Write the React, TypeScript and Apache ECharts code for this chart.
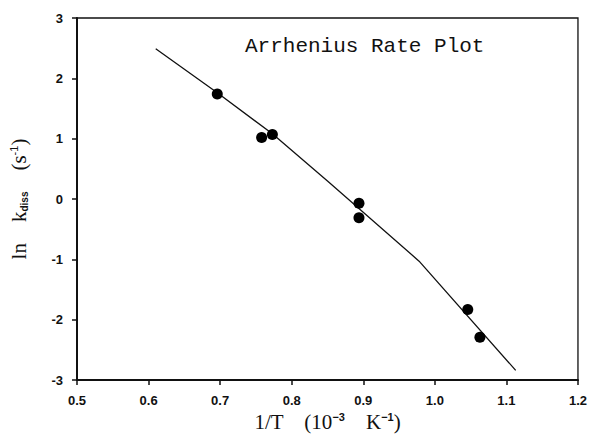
import React, { useEffect, useRef } from "react";
import * as echarts from "echarts";

const pointX = [0.696, 0.758, 0.773, 0.894, 0.894, 1.046, 1.063];
const pointY = [1.74, 1.02, 1.07, -0.07, -0.31, -1.83, -2.29];

const lineX = [0.61, 0.696, 0.773, 0.85, 0.978, 1.113];
const lineY = [2.49, 1.76, 1.08, 0.3, -1.03, -2.84];

const titleText = "Arrhenius Rate Plot";

export default function App() {
  const ref = useRef<HTMLDivElement>(null);
  useEffect(() => {
    const chart = echarts.init(ref.current!, null, { renderer: "svg" });
    const ink = "#111";
    chart.setOption({
      animation: false,
      backgroundColor: "#fff",
      grid: {
        left: 76,
        right: 9,
        top: 18,
        bottom: 59,
        show: true,
        borderColor: ink,
        borderWidth: 1.3,
      },
      title: {
        text: titleText,
        left: 240,
        top: 31,
        textStyle: {
          fontFamily: "Liberation Mono",
          fontWeight: "normal",
          fontSize: 21,
          color: ink,
        },
      },
      xAxis: {
        type: "value",
        min: 0.5,
        max: 1.2,
        interval: 0.1,
        name: "1/T    (10{sup|−3}    K{sup|−1})",
        nameLocation: "middle",
        nameGap: 30,
        nameTextStyle: {
          fontFamily: "Liberation Serif",
          fontSize: 21,
          color: ink,
          rich: {
            sup: {
              fontFamily: "Liberation Sans",
              fontSize: 11,
              fontWeight: "bold",
              verticalAlign: "top",
              padding: [0, 0, 10, 0],
              color: ink,
            },
          },
        },
        axisLine: { onZero: false, lineStyle: { color: ink, width: 2 } },
        axisTick: { inside: false, length: 5, lineStyle: { color: ink, width: 1.5 } },
        splitLine: { show: false },
        axisLabel: {
          formatter: (v: number) => v.toFixed(1),
          fontFamily: "Liberation Sans",
          fontWeight: "bold",
          fontSize: 13,
          color: ink,
          margin: 14,
        },
      },
      yAxis: {
        type: "value",
        min: -3,
        max: 3,
        interval: 1,
        name: "ln    k{sub|diss}    (s{sup|-1})",
        nameLocation: "middle",
        nameRotate: 90,
        nameGap: 48,
        nameTextStyle: {
          fontFamily: "Liberation Serif",
          fontSize: 21,
          color: ink,
          rich: {
            sub: {
              fontFamily: "Liberation Sans",
              fontSize: 10,
              fontWeight: "bold",
              verticalAlign: "bottom",
              padding: [6, 0, 0, 0],
              color: ink,
            },
            sup: {
              fontFamily: "Liberation Sans",
              fontSize: 11,
              verticalAlign: "top",
              padding: [0, 0, 9, 0],
              color: ink,
            },
          },
        },
        axisLine: { onZero: false, lineStyle: { color: ink, width: 2 } },
        axisTick: { inside: false, length: 5, lineStyle: { color: ink, width: 1.5 } },
        splitLine: { show: false },
        axisLabel: {
          fontFamily: "Liberation Sans",
          fontWeight: "bold",
          fontSize: 13,
          color: ink,
          margin: 14,
        },
      },
      series: [
        {
          type: "line",
          data: lineX.map((x, i) => [x, lineY[i]]),
          showSymbol: false,
          symbol: "none",
          lineStyle: { color: ink, width: 1.3 },
          z: 2,
        },
        {
          type: "scatter",
          data: pointX.map((x, i) => [x, pointY[i]]),
          symbolSize: 11,
          itemStyle: { color: "#000", opacity: 1 },
          z: 3,
        },
      ],
    });
    return () => chart.dispose();
  }, []);
  return (
    <div
      ref={ref}
      style={{ position: "fixed", left: 0, top: 0, width: 590, height: 439 }}
    />
  );
}
